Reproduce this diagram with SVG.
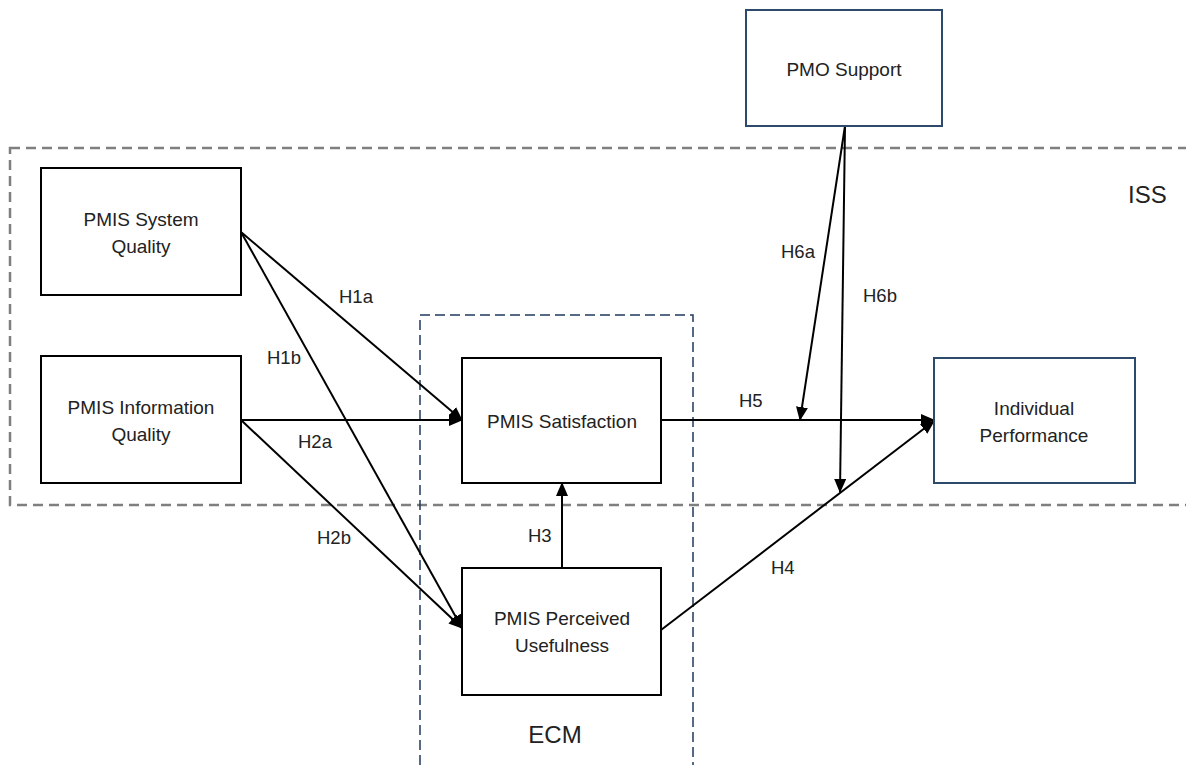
<svg xmlns="http://www.w3.org/2000/svg" width="1186" height="765" viewBox="0 0 1186 765">
<style>
.box{fill:#fff;stroke:#000;stroke-width:2}
.bbox{fill:#fff;stroke:#2E4A6B;stroke-width:2}
.t{font-family:"Liberation Sans",Arial,sans-serif;font-size:19px;fill:#222;text-anchor:middle}
.lbl{font-family:"Liberation Sans",Arial,sans-serif;font-size:18.5px;fill:#222}
.big{font-family:"Liberation Sans",Arial,sans-serif;font-size:24px;fill:#222}
.c{stroke:#000;stroke-width:2;fill:none;marker-end:url(#ah)}
</style>
<defs>
<marker id="ah" markerUnits="userSpaceOnUse" markerWidth="14" markerHeight="12" refX="13" refY="6" orient="auto">
<path d="M0,0 L14,6 L0,12 z" fill="#000"/>
</marker>
</defs>
<rect width="1186" height="765" fill="#fff"/>
<g id="iss-frame">
<rect x="10" y="148" width="1190" height="357" fill="none" stroke="#7F7F7F" stroke-width="2.5" stroke-dasharray="10,6"/>
<text class="big" x="1128" y="203">ISS</text>
</g>
<g id="ecm-frame">
<path d="M420,780 L420,315 L693,315 L693,780" fill="none" stroke="#1F3A5C" stroke-width="1.5" stroke-dasharray="10,5"/>
<text class="big" x="555" y="743" text-anchor="middle">ECM</text>
</g>
<g id="connectors">
<line class="c" x1="241" y1="232" x2="462" y2="420"/>
<line class="c" x1="241" y1="232" x2="462" y2="628"/>
<line class="c" x1="241" y1="420" x2="462" y2="420"/>
<line class="c" x1="241" y1="420" x2="462" y2="628"/>
<line class="c" x1="562" y1="568" x2="562" y2="483"/>
<line class="c" x1="661" y1="420" x2="934" y2="420"/>
<line class="c" x1="661" y1="630" x2="934" y2="421"/>
<line class="c" x1="845" y1="126" x2="800" y2="420"/>
<line class="c" x1="845" y1="126" x2="840" y2="492"/>
<text class="lbl" x="339" y="303">H1a</text>
<text class="lbl" x="267" y="364">H1b</text>
<text class="lbl" x="298" y="448">H2a</text>
<text class="lbl" x="317" y="544">H2b</text>
<text class="lbl" x="528" y="542">H3</text>
<text class="lbl" x="739" y="407">H5</text>
<text class="lbl" x="771" y="574">H4</text>
<text class="lbl" x="781" y="258">H6a</text>
<text class="lbl" x="863" y="302">H6b</text>
</g>
<g id="system-quality">
<rect class="box" x="41" y="168" width="200" height="127"/>
<text class="t" x="141" y="226">PMIS System</text>
<text class="t" x="141" y="253">Quality</text>
</g>
<g id="information-quality">
<rect class="box" x="41" y="356" width="200" height="127"/>
<text class="t" x="141" y="414">PMIS Information</text>
<text class="t" x="141" y="441">Quality</text>
</g>
<g id="satisfaction">
<rect class="box" x="462" y="358" width="199" height="125"/>
<text class="t" x="562" y="428">PMIS Satisfaction</text>
</g>
<g id="perceived-usefulness">
<rect class="box" x="462" y="568" width="199" height="127"/>
<text class="t" x="562" y="625">PMIS Perceived</text>
<text class="t" x="562" y="652">Usefulness</text>
</g>
<g id="pmo-support">
<rect class="bbox" x="746" y="10" width="196" height="116"/>
<text class="t" x="844" y="76">PMO Support</text>
</g>
<g id="individual-performance">
<rect class="bbox" x="934" y="358" width="201" height="125"/>
<text class="t" x="1034" y="415">Individual</text>
<text class="t" x="1034" y="442">Performance</text>
</g>
</svg>
